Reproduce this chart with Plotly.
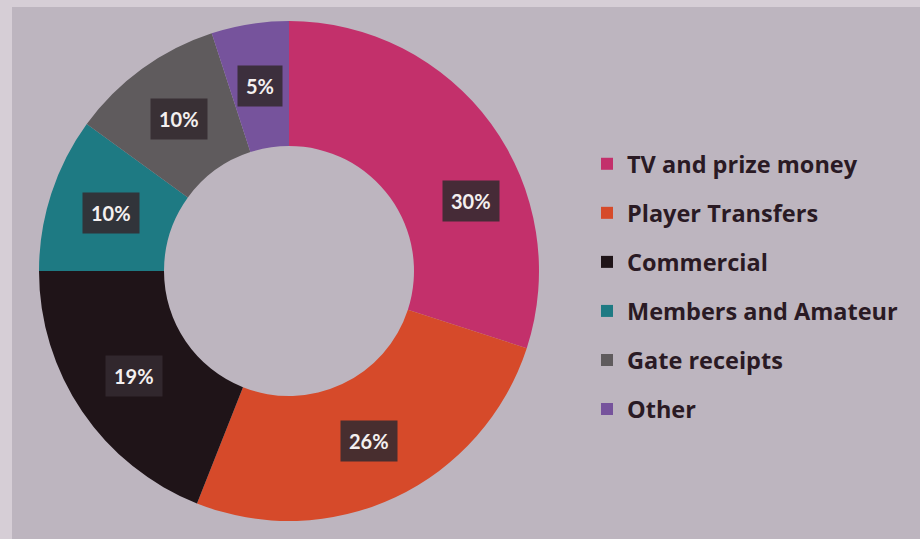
import math
import plotly.graph_objects as go

# ---- data ----
categories = ["TV and prize money", "Player Transfers", "Commercial",
              "Members and Amateur", "Gate receipts", "Other"]
values = [30, 26, 19, 10, 10, 5]
labels_text = ["30%", "26%", "19%", "10%", "10%", "5%"]

# ---- style ----
colors = ["#c3306b", "#d64a2a", "#1f1418", "#1e7a83", "#5f5b5d", "#76539c"]
W, H = 920, 539
dom_x = [39 / W, 539 / W]
dom_y = [1 - 521 / H, 1 - 21 / H]
label_r_frac = 0.75
# manual label angle shift (degrees) per slice, as in the original slide
label_shift = [15, 0, 0, 0, 0, 0]
label_r_shift = [0.03, 0, 0, 0, 0, 0]

fig = go.Figure()
fig.add_trace(go.Pie(
    labels=categories, values=values, sort=False, direction="clockwise",
    rotation=0, hole=0.5, textinfo="none", showlegend=False,
    marker=dict(colors=colors, line=dict(width=0)),
    domain=dict(x=dom_x, y=dom_y), hoverinfo="label+percent",
))

# legend via dummy traces
for c, col in zip(categories, colors):
    fig.add_trace(go.Scatter(
        x=[None], y=[None], mode="markers", name=c, legendgroup=c,
        marker=dict(symbol="square", size=12, color=col),
    ))

# label boxes at slice mid-angles
cx = (dom_x[0] + dom_x[1]) / 2 * W
cy = (1 - (dom_y[0] + dom_y[1]) / 2) * H
R = min((dom_x[1] - dom_x[0]) * W, (dom_y[1] - dom_y[0]) * H) / 2
total = sum(values)
cum = 0
annotations = []
for i, (v, t) in enumerate(zip(values, labels_text)):
    mid = (cum + v / 2) / total * 360 + label_shift[i]
    cum += v
    r = R * (label_r_frac + label_r_shift[i])
    px = cx + r * math.sin(math.radians(mid))
    py = cy - r * math.cos(math.radians(mid))
    annotations.append(dict(
        x=px / W, y=1 - py / H, xref="paper", yref="paper",
        xanchor="center", yanchor="middle",
        text="<b>" + t + "</b>",
        showarrow=False, font=dict(family="Lato", size=20, color="#f4f0f0"),
        bgcolor="rgba(52,42,48,0.88)", borderpad=8,
    ))

fig.update_layout(
    width=W, height=H, margin=dict(l=0, r=0, t=0, b=0),
    paper_bgcolor="#d6ced6", plot_bgcolor="rgba(0,0,0,0)",
    xaxis=dict(visible=False), yaxis=dict(visible=False),
    shapes=[dict(type="rect", xref="paper", yref="paper",
                 x0=12 / W, x1=1, y0=0, y1=1 - 7 / H,
                 fillcolor="#bdb5bf", line=dict(width=0), layer="below")],
    annotations=annotations,
    legend=dict(x=587 / W, y=1 - 142 / H, xanchor="left", yanchor="top",
                bgcolor="rgba(0,0,0,0)", traceorder="grouped",
                tracegroupgap=15.5, itemwidth=30,
                font=dict(family="Open Sans", size=23.5, color="#2a1a24", weight="bold")),
)
fig.write_html("out.html", config={"displayModeBar": False},
               post_script="document.body.style.margin='0';document.body.style.padding='0';")
